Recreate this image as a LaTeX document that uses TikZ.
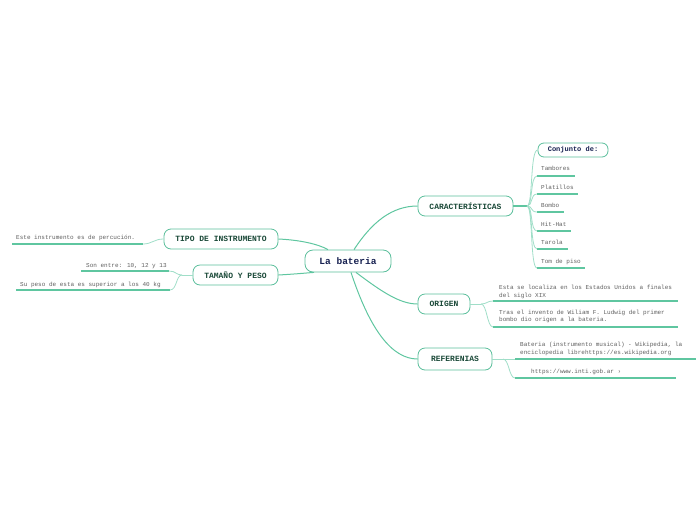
\documentclass[tikz,border=0pt]{standalone}
\usepackage{fontspec}
\setmainfont{Liberation Mono}
\definecolor{lineC}{RGB}{95,198,160}
\definecolor{lightC}{RGB}{160,222,200}
\definecolor{boxC}{RGB}{90,190,155}
\definecolor{topicT}{RGB}{25,72,55}
\definecolor{centerT}{RGB}{22,32,80}
\definecolor{itemT}{RGB}{95,95,95}
\begin{document}
\begin{tikzpicture}[x=1pt,y=-1pt,
  topicbox/.style={draw=boxC, line width=0.8pt, rounded corners=7pt, fill=white,
    font=\bfseries\fontsize{8}{9}\selectfont, text=topicT, inner sep=0pt},
  centerbox/.style={draw=boxC, line width=0.8pt, rounded corners=8pt, fill=white,
    font=\bfseries\fontsize{9.5}{11}\selectfont, text=centerT, inner sep=0pt},
  subbox/.style={draw=boxC, line width=0.8pt, rounded corners=6pt, fill=white,
    font=\bfseries\fontsize{7}{8}\selectfont, text=centerT, inner sep=0pt},
  itemtext/.style={font=\fontsize{6}{8}\selectfont, text=itemT, inner sep=0pt, anchor=base west},
  mainline/.style={draw=lineC, line width=1pt},
  subline/.style={draw=lightC, line width=0.8pt},
  underl/.style={draw=lineC, line width=1.6pt},
]
\useasboundingbox (0,0) rectangle (696,520);

% central and main topics
\node[centerbox, minimum width=86pt, minimum height=22pt] (c) at (348,261) {La bateria};
\node[topicbox, minimum width=95pt, minimum height=20pt] (cara) at (465.5,206) {CARACTERÍSTICAS};
\node[topicbox, minimum width=52pt, minimum height=20pt] (orig) at (444,304) {ORIGEN};
\node[topicbox, minimum width=74pt, minimum height=22pt] (ref) at (455,359) {REFERENIAS};
\node[topicbox, minimum width=114pt, minimum height=20pt] (tipo) at (221,239) {TIPO DE INSTRUMENTO};
\node[topicbox, minimum width=85pt, minimum height=20pt] (tam) at (235.5,275) {TAMAÑO Y PESO};

% connectors from center
\draw[mainline] ([xshift=6pt]c.north) .. controls (372,222) and (392,206) .. (cara.west);
\draw[mainline] ([xshift=8pt]c.south) .. controls (382,292) and (400,304) .. (orig.west);
\draw[mainline] ([xshift=3pt]c.south) .. controls (370,330) and (392,359) .. (ref.west);
\draw[mainline] (tipo.east) .. controls (300,240) and (318,244) .. ([xshift=-20pt]c.north);
\draw[mainline] (tam.east) .. controls (296,274) and (306,273) .. ([xshift=-34pt]c.south);

% CARACTERISTICAS subtopics
\node[subbox, minimum width=70pt, minimum height=14pt] (conj) at (573,150) {Conjunto de:};
\coordinate (j1) at (527,206);
\draw[underl] (cara.east) -- (j1);
\node[itemtext] (t1) at (541,170) {Tambores};
\node[itemtext] (t2) at (541,189) {Platillos};
\node[itemtext] (t3) at (541,207) {Bombo};
\node[itemtext] (t4) at (541,226) {Hit-Hat};
\node[itemtext] (t5) at (541,244) {Tarola};
\node[itemtext] (t6) at (541,263) {Tom de piso};
\foreach \i/\yy/\xe in {1/176/575, 2/194/578, 3/212/564, 4/231/571, 5/249/568, 6/268/585} {
  \coordinate (u\i a) at (537,\yy);
  \coordinate (u\i b) at (\xe,\yy);
  \draw[underl] (u\i a) -- (u\i b);
  \draw[subline] (j1) .. controls (533,206) and (530,\yy) .. (u\i a);
}
\draw[subline] (j1) .. controls (533,206) and (530,150) .. (conj.west);

% ORIGEN subtopics
\coordinate (j2) at (481,304);
\draw[subline] (orig.east) -- (j2);
\node[itemtext] (o1a) at (499,289) {Esta se localiza en los Estados Unidos a finales};
\node[itemtext] (o1b) at (499,297) {del siglo XIX};
\node[itemtext] (o2a) at (499,314) {Tras el invento de Wiliam F. Ludwig del primer};
\node[itemtext] (o2b) at (499,321) {bombo dio origen a la bateria.};
\coordinate (v1a) at (493,301); \coordinate (v1b) at (678,301);
\coordinate (v2a) at (493,327); \coordinate (v2b) at (678,327);
\draw[underl] (v1a) -- (v1b);
\draw[underl] (v2a) -- (v2b);
\draw[subline] (j2) .. controls (487,304) and (487,301) .. (v1a);
\draw[subline] (j2) .. controls (487,304) and (487,327) .. (v2a);

% REFERENIAS subtopics
\coordinate (j3) at (503,359);
\draw[subline] (ref.east) -- (j3);
\node[itemtext] (r1a) at (520,346) {Bateria (instrumento musical) - Wikipedia, la};
\node[itemtext] (r1b) at (520,354) {enciclopedia librehttps://es.wikipedia.org};
\node[itemtext] (r2) at (531,373) {https://www.inti.gob.ar ›};
\coordinate (w1a) at (515,359); \coordinate (w1b) at (696,359);
\coordinate (w2a) at (515,378); \coordinate (w2b) at (676,378);
\draw[underl] (w1a) -- (w1b);
\draw[underl] (w2a) -- (w2b);
\draw[subline] (j3) -- (w1a);
\draw[subline] (j3) .. controls (509,359) and (509,378) .. (w2a);

% TIPO subtopic
\node[itemtext] (p1) at (16,239) {Este instrumento es de percución.};
\coordinate (x1a) at (12,244); \coordinate (x1b) at (143,244);
\draw[underl] (x1a) -- (x1b);
\draw[subline] (x1b) .. controls (152,244) and (154,239) .. (tipo.west);

% TAMANO subtopics
\coordinate (j4) at (182,275);
\draw[subline] (tam.west) -- (j4);
\node[itemtext] (s1) at (86,267) {Son entre: 10, 12 y 13};
\node[itemtext] (s2) at (20,286) {Su peso de esta es superior a los 40 kg};
\coordinate (y1a) at (81,271); \coordinate (y1b) at (169,271);
\coordinate (y2a) at (16,290); \coordinate (y2b) at (170,290);
\draw[underl] (y1a) -- (y1b);
\draw[underl] (y2a) -- (y2b);
\draw[subline] (j4) .. controls (176,275) and (176,271) .. (y1b);
\draw[subline] (j4) .. controls (176,275) and (177,290) .. (y2b);
\end{tikzpicture}
\end{document}
